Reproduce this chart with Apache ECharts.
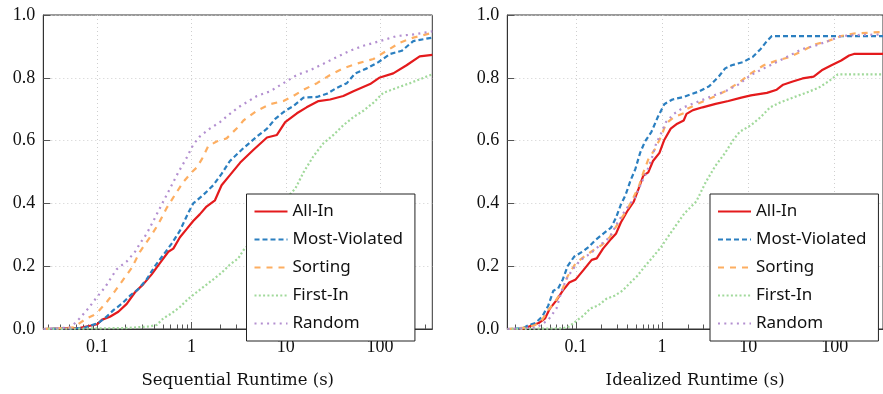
<!DOCTYPE html>
<html>
<head>
<meta charset="utf-8">
<script src="https://cdn.jsdelivr.net/npm/echarts/dist/echarts.min.js"></script>
<style>
  html, body { margin: 0; padding: 0; background: #fff; }
  #main { width: 883px; height: 394px; }
</style>
</head>
<body>
<div id="main"></div>
<script>
// series names, in legend order
var seriesNames = ['All-In', 'Most-Violated', 'Sorting', 'First-In', 'Random'];

// tick labels
var xMajorTicks = [0.1, 1, 10, 100];
var yTicks = [0, 0.2, 0.4, 0.6, 0.8, 1.0];

// axis ranges (seconds)
var seqRange = [0.0267, 358];
var idealRange = [0.0161, 363];

// Sequential runtime: [seconds, fraction solved]
var seqAllIn = [[0.027,0],[0.066,0.004],[0.1,0.015],[0.111,0.029],[0.136,0.039],[0.167,0.055],[0.205,0.08],[0.251,0.117],[0.308,0.143],[0.377,0.174],[0.461,0.21],[0.566,0.246],[0.64,0.256],[0.752,0.292],[0.885,0.318],[1.04,0.344],[1.22,0.365],[1.44,0.39],[1.77,0.41],[2.08,0.458],[2.55,0.49],[3.28,0.53],[4.54,0.571],[6.31,0.61],[8.04,0.618],[9.84,0.659],[13.1,0.687],[16.6,0.706],[22.2,0.726],[29.5,0.731],[40.7,0.742],[52.1,0.757],[78.3,0.78],[97.7,0.8],[138,0.814],[191,0.84],[263,0.868],[358,0.873]];
var seqMostViolated = [[0.027,0],[0.071,0.003],[0.102,0.019],[0.12,0.034],[0.148,0.06],[0.181,0.08],[0.222,0.106],[0.272,0.127],[0.333,0.158],[0.408,0.2],[0.501,0.236],[0.614,0.272],[0.752,0.313],[0.923,0.37],[1.04,0.4],[1.33,0.427],[1.7,0.458],[2.08,0.494],[2.55,0.535],[3.55,0.576],[4.93,0.613],[6.31,0.638],[7.71,0.669],[9.84,0.695],[12,0.71],[15.4,0.737],[21.4,0.739],[27.2,0.749],[34.7,0.768],[44.4,0.783],[54.3,0.814],[72.4,0.83],[95.9,0.85],[128,0.876],[170,0.886],[225,0.917],[358,0.928]];
var seqSorting = [[0.027,0],[0.056,0.005],[0.077,0.034],[0.091,0.044],[0.102,0.055],[0.126,0.086],[0.155,0.122],[0.189,0.158],[0.231,0.194],[0.283,0.246],[0.361,0.292],[0.444,0.334],[0.543,0.385],[0.665,0.427],[0.817,0.468],[1,0.499],[1.13,0.514],[1.28,0.54],[1.5,0.582],[1.84,0.597],[2.35,0.607],[3.13,0.644],[3.55,0.664],[4.93,0.695],[6.82,0.716],[9.44,0.726],[12,0.742],[15.4,0.762],[21.4,0.783],[29.5,0.809],[40.7,0.83],[56.6,0.845],[85.1,0.86],[117,0.886],[163,0.912],[225,0.928],[358,0.943]];
var seqFirstIn = [[0.027,0],[0.2,0.003],[0.355,0.008],[0.427,0.013],[0.501,0.034],[0.614,0.05],[0.752,0.07],[0.923,0.096],[1.13,0.117],[1.38,0.137],[1.7,0.158],[2.08,0.179],[2.55,0.205],[3.13,0.225],[3.55,0.251],[5.01,0.3],[7.08,0.36],[10,0.415],[12.6,0.447],[15.4,0.499],[19.6,0.55],[25.1,0.592],[32,0.618],[40.7,0.649],[52.1,0.675],[66.5,0.695],[85.1,0.721],[108,0.752],[150,0.768],[208,0.783],[358,0.811]];
var seqRandom = [[0.027,0],[0.052,0.005],[0.065,0.034],[0.08,0.065],[0.098,0.1],[0.12,0.132],[0.16,0.19],[0.205,0.215],[0.251,0.246],[0.283,0.272],[0.333,0.303],[0.393,0.344],[0.481,0.396],[0.589,0.447],[0.723,0.499],[0.885,0.545],[1.04,0.587],[1.22,0.613],[1.56,0.638],[2,0.659],[2.55,0.685],[3.13,0.706],[4.93,0.742],[6.82,0.757],[9.44,0.783],[13.1,0.809],[18.1,0.824],[25.1,0.845],[34.7,0.866],[47.9,0.886],[66.5,0.902],[100,0.917],[150,0.933],[225,0.938],[358,0.948]];

// Idealized runtime: [seconds, fraction solved]
var idealAllIn = [[0.0162,0],[0.0242,0],[0.0288,0.008],[0.0372,0.019],[0.0442,0.034],[0.0501,0.065],[0.0597,0.091],[0.0708,0.122],[0.0841,0.148],[0.1,0.158],[0.124,0.189],[0.153,0.22],[0.175,0.225],[0.207,0.256],[0.257,0.287],[0.292,0.303],[0.333,0.339],[0.395,0.375],[0.47,0.406],[0.535,0.447],[0.608,0.489],[0.692,0.499],[0.785,0.535],[0.933,0.561],[1.06,0.602],[1.26,0.638],[1.5,0.654],[1.78,0.664],[1.92,0.685],[2.28,0.697],[2.95,0.706],[4.17,0.717],[5.87,0.726],[8.28,0.737],[10.7,0.744],[16.4,0.752],[21.3,0.762],[25.3,0.778],[32.7,0.788],[42.4,0.798],[57.1,0.804],[70.8,0.824],[91.8,0.84],[119,0.855],[147,0.871],[167,0.876],[363,0.876]];
var idealMostViolated = [[0.0162,0],[0.0242,0.002],[0.0288,0.013],[0.0341,0.019],[0.0407,0.039],[0.0481,0.075],[0.055,0.122],[0.0624,0.129],[0.0708,0.158],[0.0805,0.2],[0.0955,0.23],[0.119,0.246],[0.141,0.261],[0.167,0.282],[0.207,0.303],[0.257,0.323],[0.292,0.354],[0.333,0.396],[0.378,0.427],[0.431,0.473],[0.49,0.509],[0.557,0.561],[0.634,0.597],[0.753,0.628],[0.893,0.675],[1.06,0.716],[1.32,0.731],[1.78,0.739],[2.71,0.757],[3.51,0.773],[4.54,0.804],[5.38,0.83],[6.4,0.84],[8.65,0.85],[11.2,0.866],[13.9,0.892],[16.4,0.917],[18.7,0.933],[363,0.933]];
var idealSorting = [[0.0162,0],[0.0282,0.005],[0.0341,0.013],[0.0407,0.029],[0.0481,0.06],[0.0571,0.086],[0.0679,0.117],[0.0805,0.168],[0.1,0.21],[0.124,0.23],[0.16,0.251],[0.2,0.267],[0.247,0.292],[0.305,0.334],[0.363,0.365],[0.431,0.4],[0.535,0.452],[0.608,0.499],[0.692,0.54],[0.82,0.571],[0.975,0.613],[1.11,0.654],[1.37,0.675],[1.78,0.687],[1.92,0.7],[2.71,0.72],[3.82,0.737],[5.38,0.757],[7.6,0.783],[10.7,0.814],[15.1,0.84],[21.3,0.855],[30.1,0.866],[42.4,0.886],[59.7,0.907],[84.1,0.917],[119,0.933],[167,0.941],[363,0.946]];
var idealFirstIn = [[0.0162,0],[0.0708,0.002],[0.0841,0.008],[0.1,0.024],[0.124,0.044],[0.147,0.065],[0.182,0.075],[0.226,0.096],[0.281,0.106],[0.348,0.122],[0.413,0.143],[0.512,0.168],[0.634,0.2],[0.785,0.23],[0.975,0.261],[1.16,0.292],[1.44,0.329],[1.78,0.365],[1.92,0.375],[2.49,0.406],[3.21,0.468],[4.16,0.52],[5.38,0.561],[6.68,0.602],[7.94,0.628],[10.7,0.649],[13.9,0.675],[17.9,0.706],[23.2,0.721],[32.7,0.737],[46.1,0.752],[65,0.768],[84.1,0.788],[109,0.811],[363,0.811]];
var idealRandom = [[0.0162,0],[0.0355,0.005],[0.0481,0.029],[0.0597,0.065],[0.0679,0.117],[0.0773,0.158],[0.0916,0.189],[0.114,0.22],[0.147,0.24],[0.191,0.267],[0.247,0.292],[0.305,0.339],[0.378,0.38],[0.49,0.42],[0.582,0.468],[0.662,0.499],[0.753,0.54],[0.857,0.592],[0.975,0.623],[1.11,0.659],[1.37,0.685],[1.78,0.706],[2.71,0.726],[3.82,0.742],[5.38,0.757],[7.6,0.778],[10.7,0.809],[15.1,0.83],[21.3,0.85],[30.1,0.871],[42.4,0.892],[59.7,0.902],[84.1,0.917],[119,0.933],[167,0.936],[363,0.938]];

var seqData = [seqAllIn, seqMostViolated, seqSorting, seqFirstIn, seqRandom];
var idealData = [idealAllIn, idealMostViolated, idealSorting, idealFirstIn, idealRandom];

var lineStyles = {
    'All-In':        { color: '#e41a1c', width: 2.2, type: 'solid' },
    'Most-Violated': { color: '#2b7fc0', width: 2.2, type: [5, 3] },
    'Sorting':       { color: '#fdae61', width: 2.2, type: [6, 6] },
    'First-In':      { color: '#a1d99b', width: 2.2, type: [2, 2.3] },
    'Random':        { color: '#b38fd0', width: 2.2, type: [2, 4.3] }
};

// minor ticks 2..9 per decade inside the range
function minorTicks(range) {
    var out = [];
    for (var e = -2; e <= 2; e++) {
        for (var k = 2; k <= 9; k++) {
            var v = k * Math.pow(10, e);
            if (v >= range[0] && v <= range[1]) out.push(v);
        }
    }
    return out;
}

var serif = 'Liberation Serif';
var axisColor = '#333';
var tickColor = '#555';
var gridLine = { show: true, lineStyle: { color: '#cfcfcf', width: 1, type: [1, 3] } };

function xAxes(gridIndex, range, name) {
    return [
        {
            type: 'log', gridIndex: gridIndex, min: range[0], max: range[1],
            name: name, nameLocation: 'middle', nameGap: 43,
            nameTextStyle: { fontFamily: 'DejaVu Serif', fontSize: 16.5, color: '#111' },
            axisLine: { show: true, lineStyle: { color: axisColor } },
            axisTick: { show: true, inside: true, length: 7, customValues: xMajorTicks, lineStyle: { color: tickColor } },
            axisLabel: { customValues: xMajorTicks, margin: 9, fontFamily: serif, fontSize: 18, color: '#111',
                formatter: function (v) { return String(Number(v.toPrecision(3))); } },
            splitLine: gridLine
        },
        {
            type: 'log', gridIndex: gridIndex, min: range[0], max: range[1], position: 'bottom',
            axisLine: { show: false },
            axisTick: { show: true, inside: true, length: 4.5, customValues: minorTicks(range), lineStyle: { color: tickColor } },
            axisLabel: { show: false },
            splitLine: { show: false }
        }
    ];
}

function yAxis(gridIndex) {
    return {
        type: 'value', gridIndex: gridIndex, min: 0, max: 1, interval: 0.2,
        axisLine: { show: true, lineStyle: { color: axisColor } },
        axisTick: { show: true, inside: true, length: 7, lineStyle: { color: tickColor } },
        axisLabel: { margin: 8, fontFamily: serif, fontSize: 18, color: '#111',
            formatter: function (v) { return v.toFixed(1); } },
        splitLine: gridLine
    };
}

function legend(left) {
    return {
        data: seriesNames, orient: 'vertical', left: left, top: 194,
        itemWidth: 33, itemHeight: 14, itemGap: 11,
        padding: [9, 12, 9, 7],
        backgroundColor: '#fff', borderColor: '#222', borderWidth: 1, borderRadius: 0,
        // hide the marker dot, keep only the line sample
        itemStyle: { color: 'transparent', borderWidth: 0, opacity: 0 },
        textStyle: { fontFamily: 'Noto Sans', fontSize: 17, color: '#111' },
        selectedMode: false
    };
}

var series = [];
[seqData, idealData].forEach(function (panel, g) {
    panel.forEach(function (data, i) {
        var name = seriesNames[i];
        series.push({
            name: name, type: 'line', xAxisIndex: g * 2, yAxisIndex: g,
            data: data, symbol: 'none', smooth: false,
            itemStyle: { color: lineStyles[name].color },
            lineStyle: lineStyles[name]
        });
    });
});

var myChart = echarts.init(document.getElementById('main'), null, { renderer: 'canvas' });
var option = {
    animation: false,
    backgroundColor: '#fff',
    grid: [
        { left: 43.3, top: 15, width: 389, height: 322.7, show: true, borderColor: axisColor, borderWidth: 1, backgroundColor: 'transparent' },
        { left: 507.3, top: 15, width: 389, height: 322.7, show: true, borderColor: axisColor, borderWidth: 1, backgroundColor: 'transparent' }
    ],
    xAxis: xAxes(0, seqRange, 'Sequential Runtime (s)').concat(xAxes(1, idealRange, 'Idealized Runtime (s)')),
    yAxis: [yAxis(0), yAxis(1)],
    legend: [legend(246.5), legend(710)],
    series: series
};
myChart.setOption(option);
</script>
</body>
</html>
